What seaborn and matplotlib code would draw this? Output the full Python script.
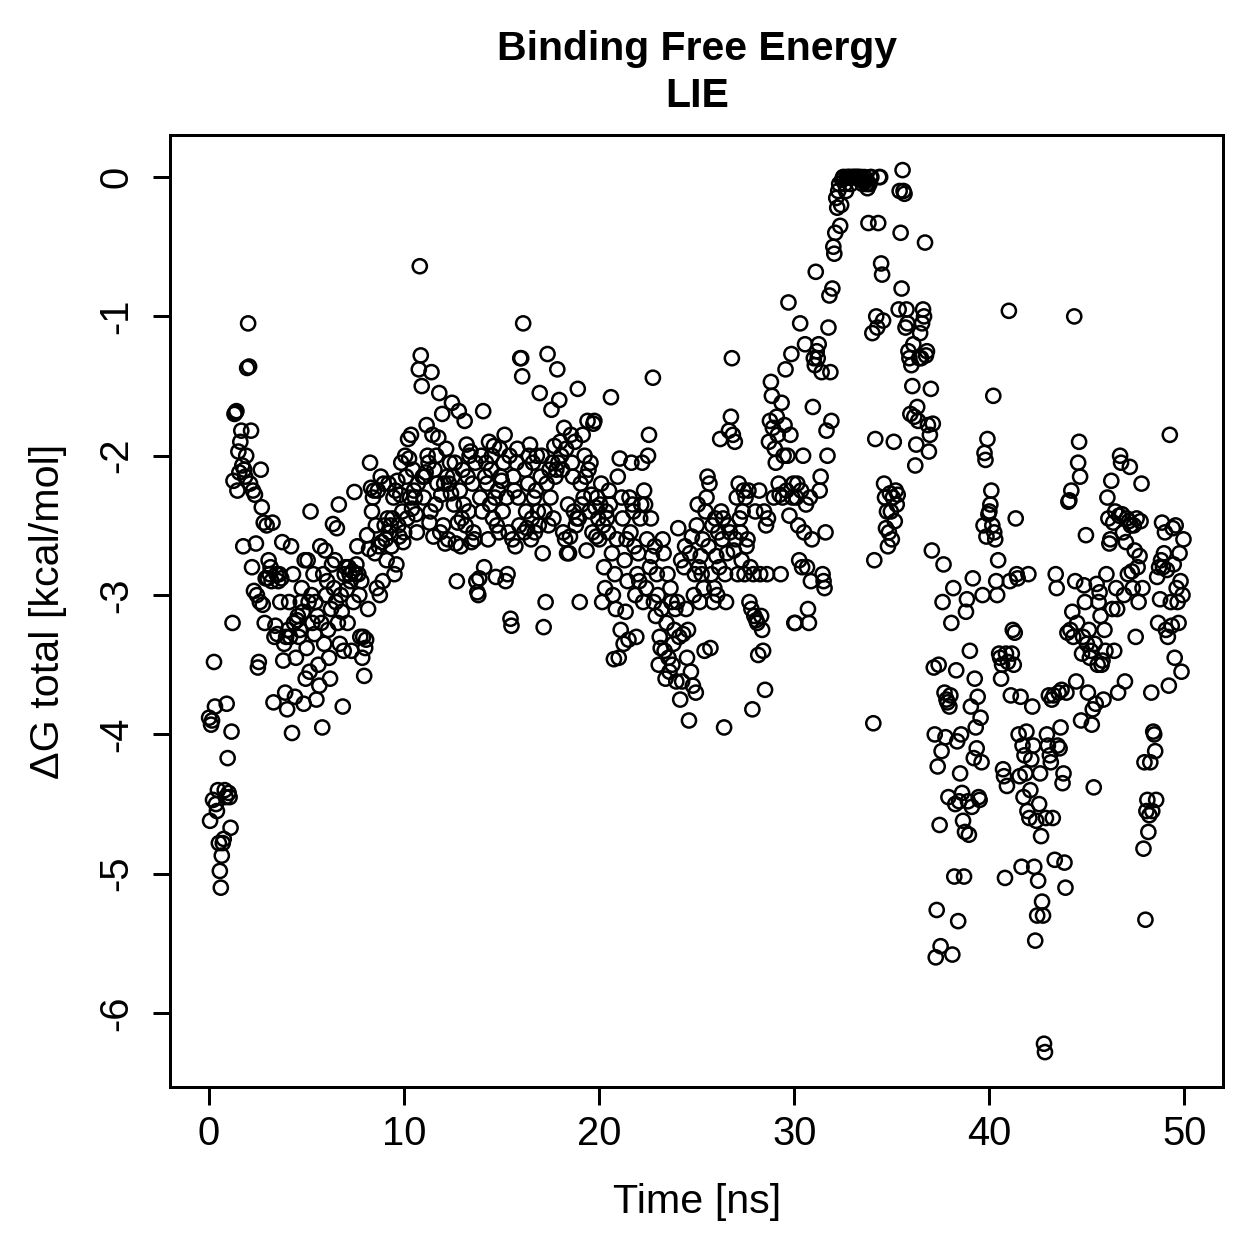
import numpy as np
import pandas as pd
import matplotlib
matplotlib.use("Agg")
import matplotlib.pyplot as plt
import seaborn as sns

# frames are written every 0.05 ns (20 frames per ns, 1000 frames in total)
frame_step_ns = 0.05

# dG total [kcal/mol], in frame order
dg_00_10ns = [
    -3.88, -4.62, -3.93, -3.90, -4.47, -3.48, -3.80, -4.50, -4.55, -4.40,
    -4.78, -4.98, -5.10, -4.87, -4.78, -4.75, -4.40, -4.45, -3.78, -4.17,
    -4.42, -4.45, -4.67, -3.98, -3.20, -2.18, -1.70, -1.69, -1.68, -2.25,
    -1.97, -2.12, -1.90, -1.82, -2.07, -2.65, -2.10, -2.15, -2.00, -1.37,
    -1.05, -1.36, -2.20, -1.82, -2.80, -2.25, -2.97, -2.28, -2.63, -3.00,
    -3.52, -3.48, -3.05, -2.10, -2.37, -3.07, -2.48, -3.20, -2.88, -2.50,
    -2.88, -2.75, -2.85, -2.80, -2.90, -2.48, -3.77, -3.30, -3.22, -2.85,
    -3.28, -2.90, -2.85, -3.05, -2.88, -2.62, -3.47, -3.35, -3.70, -3.30,
    -3.82, -3.25, -3.05, -3.30, -2.65, -3.99, -2.85, -3.20, -3.73, -3.45,
    -3.18, -3.15, -3.30, -3.25, -3.05, -2.95, -3.12, -3.78, -2.75, -3.60,
    -3.38, -2.75, -3.05, -3.55, -2.40, -3.00, -3.20, -2.85, -3.28, -3.05,
    -3.75, -3.15, -3.50, -3.65, -2.65, -3.20, -3.95, -2.85, -3.35, -2.68,
    -3.00, -2.90, -3.25, -3.45, -3.60, -3.10, -2.78, -2.49, -2.95, -2.75,
    -3.05, -2.52, -3.20, -2.35, -3.35, -3.00, -3.12, -3.80, -3.40, -2.85,
    -2.80, -2.96, -3.20, -2.80, -2.85, -2.90, -3.40, -2.83, -3.05, -2.26,
    -2.85, -2.78, -2.65, -2.85, -3.00, -3.30, -2.90, -3.45, -3.30, -3.58,
    -3.38, -3.32, -2.57, -3.10, -2.67, -2.05, -2.23, -2.40, -2.30, -2.25,
    -2.70, -2.50, -2.95, -2.25, -2.65, -3.00, -2.15, -2.62, -2.90, -2.20,
    -2.50, -2.60, -2.75, -2.45, -2.20, -2.55, -2.50, -2.65, -2.45, -2.30,
    -2.85, -2.25, -2.78, -2.18, -2.50, -2.58, -2.28, -2.05, -2.40, -2.62,
]
dg_10_20ns = [
    -2.55, -2.00, -2.15, -2.45, -1.88, -2.02, -2.30, -1.85, -2.38, -2.10,
    -2.25, -2.30, -2.42, -2.55, -2.20, -1.38, -0.64, -1.28, -1.50, -2.15,
    -2.30, -2.15, -2.12, -1.78, -2.00, -2.05, -2.48, -2.40, -1.40, -1.85,
    -2.58, -2.10, -2.35, -2.00, -2.20, -1.87, -1.55, -2.55, -2.28, -1.70,
    -2.50, -2.20, -2.63, -1.95, -2.15, -2.60, -2.20, -2.05, -2.27, -1.62,
    -2.15, -2.35, -2.05, -2.63, -2.90, -2.48, -1.68, -2.25, -2.65, -2.45,
    -2.10, -2.35, -1.75, -2.50, -1.92, -2.15, -2.40, -2.00, -1.97, -2.62,
    -2.20, -2.55, -2.60, -2.05, -2.90, -2.98, -3.00, -2.88, -2.30, -2.00,
    -2.40, -1.68, -2.80, -2.15, -2.05, -2.20, -2.60, -1.90, -2.35, -2.10,
    -2.00, -2.45, -1.93, -2.30, -2.87, -2.50, -2.25, -2.55, -1.95, -2.15,
    -2.18, -2.40, -2.05, -1.85, -2.90, -2.30, -2.85, -2.55, -2.00, -3.17,
    -3.22, -2.60, -2.15, -2.25, -2.65, -2.05, -1.95, -2.30, -2.50, -1.30,
    -1.30, -1.43, -1.05, -2.55, -2.10, -2.40, -2.52, -2.20, -2.00, -1.92,
    -2.60, -2.45, -2.05, -2.30, -2.55, -2.25, -2.00, -2.40, -2.50, -1.55,
    -2.15, -2.00, -2.70, -3.23, -2.40, -3.05, -2.20, -1.27, -2.50, -2.10,
    -2.30, -1.67, -2.05, -2.45, -1.93, -2.15, -2.10, -1.38, -2.05, -1.60,
    -1.90, -2.00, -2.10, -2.55, -1.80, -2.60, -1.95, -2.70, -2.35, -2.70,
    -2.58, -1.85, -2.05, -2.15, -2.40, -1.90, -2.50, -2.45, -1.52, -2.45,
    -3.05, -2.20, -2.35, -1.85, -2.30, -2.00, -2.15, -2.68, -1.75, -2.10,
    -2.40, -2.05, -2.28, -2.55, -1.77, -1.75, -2.37, -2.58, -2.30, -2.45,
]
dg_20_30ns = [
    -2.60, -2.35, -2.20, -3.05, -2.50, -2.80, -2.95, -2.40, -2.45, -2.55,
    -2.25, -2.35, -1.58, -2.70, -3.00, -3.46, -2.85, -3.10, -2.60, -2.15,
    -3.45, -2.02, -3.25, -2.30, -2.45, -3.35, -2.75, -3.12, -2.60, -2.90,
    -3.32, -2.30, -2.55, -2.05, -2.35, -2.40, -2.65, -3.00, -3.30, -2.85,
    -2.70, -2.90, -2.45, -2.35, -2.05, -3.05, -2.25, -2.35, -2.95, -2.60,
    -2.00, -1.85, -2.80, -2.45, -2.72, -1.44, -3.05, -2.65, -3.15, -2.85,
    -3.00, -3.50, -3.30, -3.38, -3.10, -2.60, -2.70, -3.40, -3.60, -3.20,
    -2.85, -3.45, -3.55, -2.95, -3.05, -3.50, -3.35, -3.25, -3.10, -3.62,
    -3.05, -2.52, -3.30, -3.75, -2.75, -3.62, -3.28, -2.80, -2.65, -3.10,
    -3.45, -3.25, -3.90, -2.70, -3.55, -2.58, -3.65, -3.00, -2.85, -3.70,
    -2.50, -2.35, -2.80, -3.05, -2.72, -2.85, -2.60, -2.95, -3.40, -2.40,
    -2.30, -2.15, -2.65, -2.20, -3.38, -2.85, -2.50, -3.05, -2.95, -2.45,
    -2.72, -3.00, -2.55, -2.80, -1.88, -2.40, -2.60, -2.45, -3.95, -2.85,
    -3.05, -2.70, -2.50, -1.82, -2.55, -1.72, -1.30, -1.85, -2.68, -1.90,
    -2.60, -2.30, -2.85, -2.20, -2.45, -2.55, -2.75, -2.40, -2.25, -2.85,
    -2.30, -2.65, -2.60, -2.25, -3.05, -2.80, -3.10, -3.82, -2.85, -3.15,
    -2.40, -3.18, -3.20, -3.43, -2.25, -2.85, -3.15, -3.25, -3.40, -2.40,
    -3.68, -2.50, -2.85, -2.45, -1.90, -1.75, -1.47, -1.57, -1.80, -2.30,
    -1.95, -2.05, -1.72, -1.85, -2.20, -2.28, -2.85, -1.62, -2.30, -2.00,
    -1.78, -1.38, -2.25, -2.00, -0.90, -2.43, -1.85, -1.27, -2.30, -2.20,
]
dg_30_40ns = [
    -3.20, -3.20, -2.30, -2.20, -2.50, -2.75, -1.05, -2.25, -2.80, -2.00,
    -2.55, -1.20, -2.35, -2.80, -3.10, -3.20, -2.30, -2.90, -2.60, -1.65,
    -1.30, -1.35, -0.68, -1.25, -1.30, -1.20, -2.25, -2.15, -1.40, -2.85,
    -2.90, -2.95, -2.55, -1.82, -2.00, -1.08, -0.85, -1.40, -1.75, -0.80,
    -0.50, -0.55, -0.40, -0.15, -0.22, -0.10, -0.05, -0.35, -0.20, -0.02,
    0.00, 0.00, -0.05, -0.10, 0.00, 0.00, 0.00, 0.00, -0.05, 0.00,
    0.00, 0.00, 0.00, 0.00, 0.00, 0.00, 0.00, 0.00, -0.02, 0.00,
    -0.05, -0.02, 0.00, -0.03, -0.05, -0.08, -0.33, -0.05, 0.00, 0.00,
    -1.12, -3.92, -2.75, -1.88, -1.00, -1.08, -0.33, 0.00, 0.00, -0.62,
    -0.70, -1.03, -2.20, -2.30, -2.52, -2.40, -2.65, -2.55, -2.27, -2.40,
    -2.60, -2.30, -1.90, -2.47, -2.25, -2.35, -2.28, -0.95, -0.10, -0.40,
    -0.80, 0.05, -0.10, -0.12, -1.08, -0.95, -1.05, -1.25, -1.30, -1.70,
    -1.35, -1.50, -1.20, -1.72, -2.07, -1.92, -1.65, -1.75, -1.30, -1.12,
    -1.30, -1.05, -0.95, -1.00, -0.47, -1.28, -1.25, -1.78, -1.97, -1.85,
    -1.52, -2.68, -1.77, -3.52, -4.00, -5.60, -5.26, -4.23, -3.50, -4.65,
    -5.52, -4.12, -3.05, -2.78, -3.70, -4.02, -3.75, -3.77, -4.45, -3.80,
    -3.72, -3.20, -5.58, -2.95, -5.02, -4.50, -3.54, -4.05, -5.34, -4.48,
    -4.28, -4.00, -4.42, -4.62, -5.02, -4.70, -3.12, -3.03, -4.48, -4.72,
    -3.40, -3.80, -4.52, -2.88, -4.17, -3.60, -3.95, -4.10, -3.73, -4.45,
    -4.47, -3.88, -4.20, -3.00, -2.50, -1.98, -2.03, -2.58, -1.88, -2.42,
]
dg_40_50ns = [
    -2.40, -2.35, -2.25, -2.50, -1.57, -2.55, -2.60, -2.90, -3.00, -2.75,
    -3.42, -3.45, -3.60, -3.50, -4.25, -4.30, -5.03, -3.42, -4.37, -3.48,
    -0.96, -2.90, -3.72, -3.42, -3.25, -3.50, -3.27, -2.45, -2.85, -2.88,
    -4.00, -4.30, -3.73, -4.95, -4.08, -4.45, -4.15, -4.28, -3.98, -4.55,
    -2.85, -4.60, -4.40, -4.18, -3.80, -4.08, -4.95, -5.48, -4.62, -5.30,
    -5.05, -4.50, -4.28, -4.73, -5.20, -5.30, -6.22, -6.28, -4.60, -4.00,
    -4.08, -3.72, -4.15, -4.20, -3.75, -4.60, -3.72, -4.90, -2.85, -2.95,
    -4.08, -3.70, -4.10, -3.95, -3.68, -4.35, -4.28, -4.92, -5.10, -3.70,
    -3.27, -2.33, -2.32, -3.25, -2.25, -3.12, -3.30, -1.00, -2.90, -3.62,
    -3.20, -2.05, -1.90, -2.15, -3.90, -3.42, -3.30, -2.93, -3.05, -2.57,
    -3.35, -3.70, -3.25, -3.45, -3.40, -3.93, -3.82, -4.38, -3.35, -3.78,
    -2.92, -3.50, -3.05, -2.98, -3.15, -3.50, -3.47, -3.75, -3.25, -3.40,
    -2.85, -2.30, -2.45, -2.63, -2.60, -2.18, -3.10, -2.48, -3.40, -2.40,
    -2.95, -3.10, -3.70, -2.43, -2.00, -2.05, -2.42, -2.55, -3.00, -3.62,
    -2.62, -2.45, -2.85, -2.47, -2.08, -2.50, -2.83, -2.95, -2.50, -2.68,
    -3.30, -2.45, -2.80, -3.05, -2.72, -2.47, -2.20, -2.95, -4.82, -4.20,
    -5.33, -4.55, -4.47, -4.70, -4.58, -4.20, -3.70, -4.55, -3.98, -4.00,
    -4.12, -4.47, -2.87, -3.20, -2.80, -3.03, -2.75, -2.48, -2.80, -2.70,
    -2.55, -3.25, -2.82, -3.30, -3.65, -1.85, -3.05, -3.22, -2.52, -2.78,
    -3.45, -2.50, -2.95, -3.05, -3.20, -2.70, -2.90, -3.55, -3.00, -2.60,
]

dg_total = dg_00_10ns + dg_10_20ns + dg_20_30ns + dg_30_40ns + dg_40_50ns
df = pd.DataFrame({"dg": dg_total})
df["time"] = np.arange(len(df)) * frame_step_ns

sns.set_style("ticks")
plt.rcParams["font.family"] = ["Liberation Sans", "DejaVu Sans"]
plt.rcParams["axes.unicode_minus"] = False
plt.rcParams["text.color"] = "black"
plt.rcParams["axes.labelcolor"] = "black"
plt.rcParams["xtick.color"] = "black"
plt.rcParams["ytick.color"] = "black"

fig = plt.figure(figsize=(7, 7), dpi=180)
ax = fig.add_axes([0.135, 0.137, 0.836, 0.756])

sns.scatterplot(
    data=df, x="time", y="dg", ax=ax,
    marker="o", s=32, facecolor="none", edgecolor="black", linewidth=1.0,
)

# R-style 4% padding around the data range
def padded(lo, hi, f=0.04):
    d = (hi - lo) * f
    return lo - d, hi + d

ax.set_xlim(*padded(0, 50))
ax.set_ylim(*padded(df["dg"].min(), df["dg"].max()))

ax.set_xticks(range(0, 51, 10))
ax.set_yticks(range(-6, 1))
ax.tick_params(axis="both", labelsize=16, length=7, width=1.2, direction="out")
ax.tick_params(axis="x", pad=4)
ax.tick_params(axis="y", pad=7)
for lab in ax.get_yticklabels():
    lab.set_rotation(90)
    lab.set_va("center")

for sp in ax.spines.values():
    sp.set_visible(True)
    sp.set_linewidth(1.2)
    sp.set_color("black")

ax.set_xlabel("Time [ns]", fontsize=16.5, labelpad=12)
ax.set_ylabel("\u0394G total [kcal/mol]", fontsize=16.5, labelpad=12)
ax.set_title("Binding Free Energy\nLIE", fontsize=16.4, fontweight="bold",
             pad=11, linespacing=1.3)

fig.savefig("out.png", dpi=180)
